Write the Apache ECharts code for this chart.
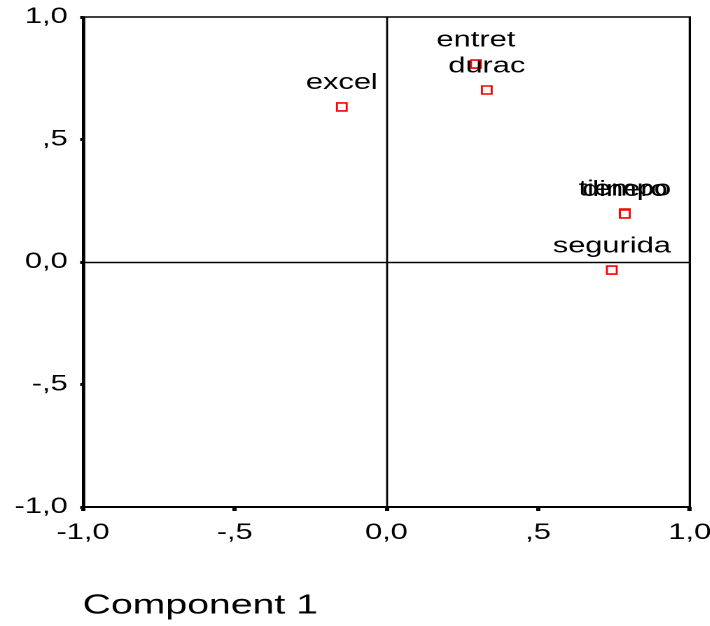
<!DOCTYPE html>
<html>
<head>
<meta charset="utf-8">
<script src="https://cdn.jsdelivr.net/npm/echarts@6/dist/echarts.min.js"></script>
<style>
  html, body { margin: 0; padding: 0; background: #fff; overflow: hidden; }
  /* the reference is a horizontally stretched export: draw narrow, then stretch */
  #main { width: 507px; height: 626px; transform: scaleX(1.4); transform-origin: 0 0; }
</style>
</head>
<body>
<div id="main"></div>
<script>
// component loadings
var names = ['excel', 'entret', 'durac', 'tiempo', 'dinero', 'segurida'];
var comp1 = [-0.147, 0.295, 0.331, 0.786, 0.786, 0.743];
var comp2 = [0.633, 0.808, 0.702, 0.200, 0.196, -0.033];
var tickLabels = { '-1': '-1,0', '-0.5': '-,5', '0': '0,0', '0.5': ',5', '1': '1,0' };

var myChart = echarts.init(document.getElementById('main'), null, { devicePixelRatio: 2 });

var points = names.map(function (n, i) {
    return { name: n, value: [comp1[i], comp2[i]] };
});

var fmt = function (v) {
    return tickLabels[String(v)] || '';
};

var font = 'Liberation Sans, Arial, sans-serif';

var option = {
    animation: false,
    title: {
        text: 'Component 1',
        left: 59,
        top: 592,
        padding: 0,
        textStyle: { fontFamily: font, fontSize: 28, fontWeight: 'normal', color: '#000' }
    },
    grid: {
        left: 59.3,
        right: 14.3,
        top: 17,
        bottom: 119,
        outerBoundsMode: 'none',
        show: true,
        borderColor: '#000',
        borderWidth: 1.6,
        backgroundColor: '#fff'
    },
    xAxis: {
        type: 'value',
        min: -1,
        max: 1,
        interval: 0.5,
        splitLine: { show: false },
        axisLine: { show: true, onZero: false, lineStyle: { color: '#000', width: 2 } },
        axisTick: { show: true, inside: false, length: 4, lineStyle: { color: '#000', width: 3 } },
        axisLabel: { formatter: fmt, color: '#000', fontFamily: font, fontSize: 22, margin: 15 }
    },
    yAxis: {
        type: 'value',
        min: -1,
        max: 1,
        interval: 0.5,
        splitLine: { show: false },
        axisLine: { show: true, onZero: false, lineStyle: { color: '#000', width: 1.8 } },
        axisTick: { show: true, inside: false, length: 2, lineStyle: { color: '#000', width: 3 } },
        axisLabel: { formatter: fmt, color: '#000', fontFamily: font, fontSize: 22, margin: 11 }
    },
    series: [
        {
            type: 'scatter',
            data: points,
            symbol: 'rect',
            symbolSize: [7, 8],
            itemStyle: { opacity: 1, color: '#fff', borderColor: '#ff0000', borderWidth: 1.5 },
            label: {
                show: true,
                position: 'top',
                distance: 8,
                formatter: '{b}',
                color: '#000',
                fontFamily: font,
                fontSize: 22
            },
            labelLayout: { hideOverlap: false },
            markLine: {
                silent: true,
                symbol: 'none',
                label: { show: false },
                lineStyle: { color: '#000', width: 1.4, type: 'solid' },
                data: [{ xAxis: 0 }, { yAxis: 0 }]
            },
            z: 3
        }
    ]
};

myChart.setOption(option);
</script>
</body>
</html>
